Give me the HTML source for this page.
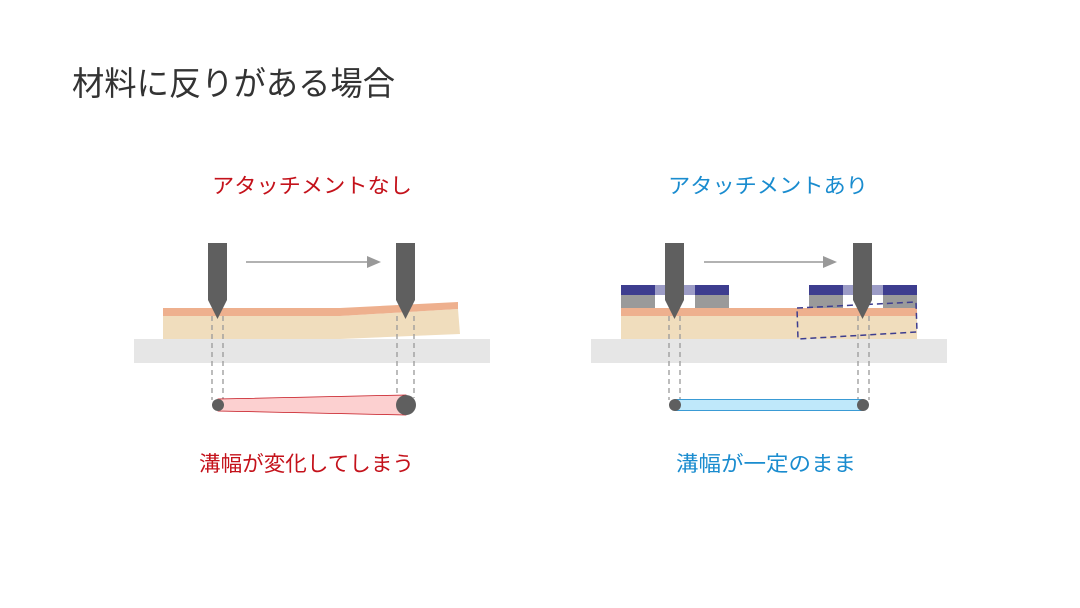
<!DOCTYPE html>
<html><head><meta charset="utf-8"><style>
html,body{margin:0;padding:0;background:#fff;}
svg{display:block;}
text{font-family:"Liberation Sans","Noto Sans CJK JP",sans-serif;}
</style></head><body>
<svg width="1080" height="608" viewBox="0 0 1080 608" xmlns="http://www.w3.org/2000/svg">
<rect width="1080" height="608" fill="#fff"/>
<text x="72" y="95" font-size="33" fill="#333" textLength="323" lengthAdjust="spacingAndGlyphs">材料に反りがある場合</text>
<text x="212" y="193" font-size="21" fill="#c4121b" textLength="200" lengthAdjust="spacingAndGlyphs">アタッチメントなし</text>
<text x="668" y="193" font-size="21" fill="#1a8ccf" textLength="200" lengthAdjust="spacingAndGlyphs">アタッチメントあり</text>
<text x="199" y="471" font-size="21" fill="#c4121b" textLength="215" lengthAdjust="spacingAndGlyphs">溝幅が変化してしまう</text>
<text x="676" y="471" font-size="21" fill="#1a8ccf" textLength="180" lengthAdjust="spacingAndGlyphs">溝幅が一定のまま</text>

<!-- LEFT -->
<rect x="134" y="339" width="356" height="24" fill="#e6e6e6"/>
<polygon points="163,316 340,316 458,309 460,334 340,339 163,339" fill="#f0ddbd"/>
<polygon points="163,308 340,308 458,302 458,309 340,316 163,316" fill="#eeb08e"/>
<g stroke="#999" stroke-width="1.3" stroke-dasharray="5,4">
<line x1="212" y1="316" x2="212" y2="400"/><line x1="223" y1="316" x2="223" y2="400"/>
<line x1="397" y1="316" x2="397" y2="398"/><line x1="414" y1="316" x2="414" y2="398"/>
</g>
<polygon points="208,243 227,243 227,300 217.5,319 208,300" fill="#5f5f5f"/>
<polygon points="396,243 415,243 415,300 405.5,319 396,300" fill="#5f5f5f"/>
<line x1="246" y1="262" x2="370" y2="262" stroke="#999" stroke-width="1.5"/>
<polygon points="367,256 381,262 367,268" fill="#999"/>
<polygon points="218,399 406,395 406,415 218,411" fill="#fcd0d0" stroke="#c4121b" stroke-width="0.8"/>
<circle cx="218" cy="405" r="6" fill="#5f5f5f"/>
<circle cx="406" cy="405" r="10" fill="#5f5f5f"/>

<!-- RIGHT -->
<rect x="591" y="339" width="356" height="24" fill="#e6e6e6"/>
<rect x="621" y="316" width="296" height="23" fill="#f0ddbd"/>
<rect x="621" y="308" width="296" height="8" fill="#eeb08e"/>
<g fill="#9a9a9a">
<rect x="621" y="295" width="34" height="13"/><rect x="695" y="295" width="34" height="13"/>
<rect x="809" y="295" width="34" height="13"/><rect x="883" y="295" width="34" height="13"/>
</g>
<g fill="#3d3d8f">
<rect x="621" y="285" width="34" height="10"/><rect x="695" y="285" width="34" height="10"/>
<rect x="809" y="285" width="34" height="10"/><rect x="883" y="285" width="34" height="10"/>
</g>
<g fill="#9c9cc6">
<rect x="655" y="285" width="40" height="10"/><rect x="843" y="285" width="40" height="10"/>
</g>
<polygon points="797,308 916,302 917,332 798,339" fill="none" stroke="#3d3d8f" stroke-width="1.5" stroke-dasharray="6,4"/>
<g stroke="#999" stroke-width="1.3" stroke-dasharray="5,4">
<line x1="669" y1="316" x2="669" y2="400"/><line x1="680" y1="316" x2="680" y2="400"/>
<line x1="858" y1="316" x2="858" y2="400"/><line x1="869" y1="316" x2="869" y2="400"/>
</g>
<polygon points="665,243 684,243 684,300 674.5,319 665,300" fill="#5f5f5f"/>
<polygon points="853,243 872,243 872,300 862.5,319 853,300" fill="#5f5f5f"/>
<line x1="704" y1="262" x2="826" y2="262" stroke="#999" stroke-width="1.5"/>
<polygon points="823,256 837,262 823,268" fill="#999"/>
<rect x="675" y="399.5" width="188" height="11" fill="#bfe8fa" stroke="#3a9bd5" stroke-width="1"/>
<circle cx="675" cy="405" r="6" fill="#5f5f5f"/>
<circle cx="863" cy="405" r="6" fill="#5f5f5f"/>
</svg>
</body></html>
